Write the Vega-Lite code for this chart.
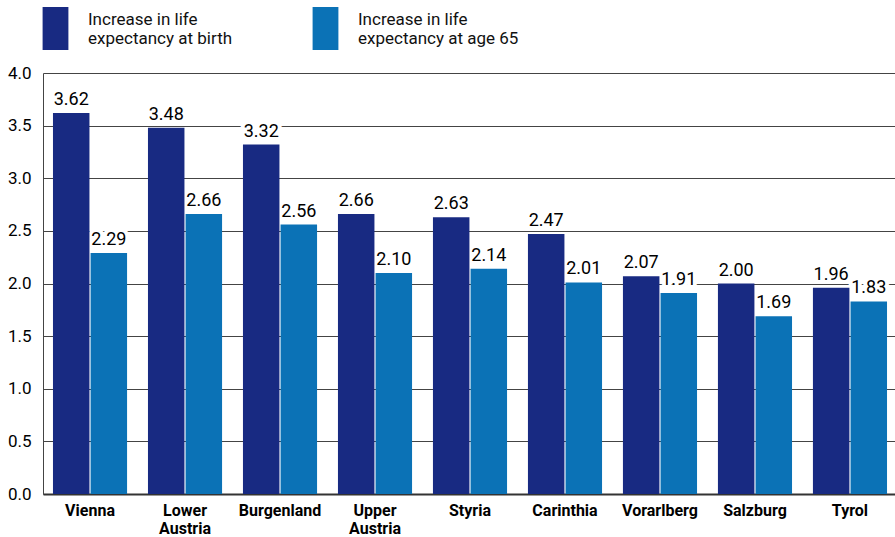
{
  "$schema": "https://vega.github.io/schema/vega-lite/v6.json",
  "width": 854,
  "height": 421,
  "padding": {"left": 7, "top": 7, "right": 0, "bottom": 0},
  "autosize": {"type": "pad"},
  "data": {
    "values": [
      {"region": "Vienna", "measure": "Increase in life expectancy at birth", "value": 3.62},
      {"region": "Vienna", "measure": "Increase in life expectancy at age 65", "value": 2.29},
      {"region": "Lower Austria", "measure": "Increase in life expectancy at birth", "value": 3.48},
      {"region": "Lower Austria", "measure": "Increase in life expectancy at age 65", "value": 2.66},
      {"region": "Burgenland", "measure": "Increase in life expectancy at birth", "value": 3.32},
      {"region": "Burgenland", "measure": "Increase in life expectancy at age 65", "value": 2.56},
      {"region": "Upper Austria", "measure": "Increase in life expectancy at birth", "value": 2.66},
      {"region": "Upper Austria", "measure": "Increase in life expectancy at age 65", "value": 2.10},
      {"region": "Styria", "measure": "Increase in life expectancy at birth", "value": 2.63},
      {"region": "Styria", "measure": "Increase in life expectancy at age 65", "value": 2.14},
      {"region": "Carinthia", "measure": "Increase in life expectancy at birth", "value": 2.47},
      {"region": "Carinthia", "measure": "Increase in life expectancy at age 65", "value": 2.01},
      {"region": "Vorarlberg", "measure": "Increase in life expectancy at birth", "value": 2.07},
      {"region": "Vorarlberg", "measure": "Increase in life expectancy at age 65", "value": 1.91},
      {"region": "Salzburg", "measure": "Increase in life expectancy at birth", "value": 2.00},
      {"region": "Salzburg", "measure": "Increase in life expectancy at age 65", "value": 1.69},
      {"region": "Tyrol", "measure": "Increase in life expectancy at birth", "value": 1.96},
      {"region": "Tyrol", "measure": "Increase in life expectancy at age 65", "value": 1.83}
    ]
  },
  "encoding": {
    "x": {
      "field": "region",
      "type": "nominal",
      "sort": null,
      "scale": {"paddingInner": 0.22, "paddingOuter": 0.105},
      "axis": {
        "title": null,
        "ticks": false,
        "labelAngle": 0,
        "labelFontWeight": "bold",
        "labelFontSize": 16,
        "labelColor": "black",
        "labelPadding": 8,
        "labelLineHeight": 18,
        "labelBaseline": "top",
        "domainColor": "#333333",
        "domainWidth": 2,
        "grid": false,
        "labelExpr": "indexof(datum.label, 'Austria') > 0 ? split(datum.label, ' ') : datum.label"
      }
    },
    "xOffset": {"field": "measure", "type": "nominal", "sort": null, "scale": {"paddingInner": 0.03}},
    "y": {
      "field": "value",
      "type": "quantitative",
      "scale": {"domain": [0, 4]},
      "axis": {
        "title": null,
        "values": [0, 0.5, 1, 1.5, 2, 2.5, 3, 3.5, 4],
        "format": ".1f",
        "ticks": false,
        "grid": true,
        "gridColor": "#444444",
        "gridWidth": 1,
        "domainColor": "#444444",
        "labelFontSize": 17,
        "labelColor": "black",
        "labelPadding": 12
      }
    }
  },
  "layer": [
    {
      "mark": {"type": "text", "baseline": "bottom", "dy": -4, "fontSize": 18, "stroke": "white", "strokeWidth": 8, "fill": "white"},
      "encoding": {"text": {"field": "value", "type": "quantitative", "format": ".2f"}}
    },
    {
      "mark": {"type": "bar"},
      "encoding": {
        "color": {
          "field": "measure",
          "type": "nominal",
          "sort": null,
          "scale": {
            "domain": ["Increase in life expectancy at birth", "Increase in life expectancy at age 65"],
            "range": ["#182a82", "#0b72b6"]
          },
          "legend": {
            "orient": "none",
            "legendX": -9,
            "legendY": -66,
            "direction": "horizontal",
            "title": null,
            "padding": 0,
            "symbolType": "M-0.6,-1L0.6,-1L0.6,1L-0.6,1Z",
            "symbolSize": 1849,
            "symbolStrokeWidth": 0,
            "symbolOpacity": 1,
            "labelFontSize": 17,
            "labelColor": "#111111",
            "labelOffset": 11,
            "labelLimit": 300,
            "labelLineHeight": 21,
            "labelBaseline": "bottom",
            "columnPadding": 71,
            "labelExpr": "[slice(datum.label, 0, 16), slice(datum.label, 17)]"
          }
        }
      }
    },
    {
      "mark": {"type": "text", "baseline": "bottom", "dy": -4, "fontSize": 18, "fill": "black"},
      "encoding": {"text": {"field": "value", "type": "quantitative", "format": ".2f"}}
    }
  ],
  "config": {
    "view": {"stroke": null},
    "font": "Roboto, sans-serif"
  }
}
